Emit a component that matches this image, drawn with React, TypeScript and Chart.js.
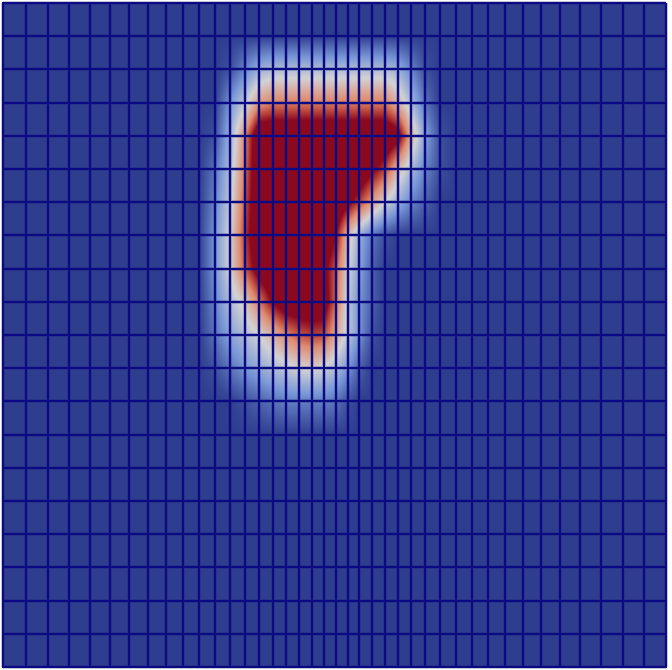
import React, { useEffect, useRef } from "react";
import { Chart, registerables } from "chart.js";

Chart.register(...registerables);

// Mesh node coordinates (graded in x, uniform in y); y increases upward
const meshX = [
  0, 0.0347, 0.0679, 0.0995, 0.1312, 0.1614, 0.19, 0.2187, 0.2459, 0.2715,
  0.2956, 0.3198, 0.3424, 0.365, 0.3861, 0.4072, 0.4268, 0.4465, 0.4661, 0.4842,
  0.5023, 0.5204, 0.537, 0.5566, 0.5762, 0.5958, 0.6154, 0.6365, 0.6591, 0.6833,
  0.7074, 0.7315, 0.7572, 0.7843, 0.8115, 0.8401, 0.8703, 0.902, 0.9351, 0.9668, 1,
];
const meshY = [
  0, 0.05, 0.1, 0.15, 0.2, 0.25, 0.3, 0.35, 0.4, 0.45, 0.5,
  0.55, 0.6, 0.65, 0.7, 0.75, 0.8, 0.85, 0.9, 0.95, 1,
];

// Nodal field values, given on the patch of nodes where it is non-zero
const patchX = [
  0.2956, 0.3198, 0.3424, 0.365, 0.3861, 0.4072, 0.4268, 0.4465, 0.4661, 0.4842,
  0.5023, 0.5204, 0.537, 0.5566, 0.5762, 0.5958, 0.6154, 0.6365, 0.6591, 0.6833, 0.7074,
];
const patchY = [0.9, 0.85, 0.8, 0.75, 0.7, 0.65, 0.6, 0.55, 0.5, 0.45, 0.4];
const fieldValues = [
  [0, 0, 0.05, 0.2, 0.35, 0.4, 0.4, 0.4, 0.4, 0.4, 0.4, 0.4, 0.4, 0.4, 0.4, 0.35, 0.2, 0.05, 0, 0, 0],
  [0, 0, 0.25, 0.45, 0.7, 0.78, 0.78, 0.78, 0.78, 0.78, 0.78, 0.78, 0.78, 0.78, 0.78, 0.62, 0.4, 0.15, 0, 0, 0],
  [0, 0.05, 0.35, 0.75, 1.2, 1.2, 1.2, 1.2, 1.2, 1.2, 1.2, 1.2, 1.2, 1.2, 1.2, 1.1, 0.65, 0.3, 0.05, 0, 0],
  [0, 0.15, 0.4, 0.8, 1.2, 1.2, 1.2, 1.2, 1.2, 1.2, 1.2, 1.2, 1.2, 1.05, 0.9, 0.6, 0.4, 0.2, 0.05, 0, 0],
  [0, 0.2, 0.45, 0.85, 1.2, 1.2, 1.2, 1.2, 1.2, 1.2, 1.2, 1.05, 0.9, 0.7, 0.5, 0.35, 0.2, 0.1, 0, 0, 0],
  [0, 0.25, 0.5, 0.9, 1.2, 1.2, 1.2, 1.2, 1.2, 1.2, 1.0, 0.6, 0.35, 0.15, 0.05, 0, 0, 0, 0, 0, 0],
  [0, 0.25, 0.5, 0.85, 1.1, 1.2, 1.2, 1.2, 1.2, 1.05, 0.85, 0.5, 0.3, 0.1, 0, 0, 0, 0, 0, 0, 0],
  [0, 0.2, 0.4, 0.55, 0.78, 1.02, 1.15, 1.15, 1.15, 1.12, 0.8, 0.45, 0.25, 0.1, 0, 0, 0, 0, 0, 0, 0],
  [0, 0.15, 0.3, 0.4, 0.5, 0.62, 0.75, 0.85, 0.9, 0.88, 0.65, 0.45, 0.25, 0.05, 0, 0, 0, 0, 0, 0, 0],
  [0, 0.05, 0.15, 0.25, 0.32, 0.4, 0.45, 0.5, 0.52, 0.48, 0.4, 0.25, 0.1, 0, 0, 0, 0, 0, 0, 0, 0],
  [0, 0, 0, 0.05, 0.1, 0.15, 0.18, 0.18, 0.18, 0.18, 0.15, 0.05, 0, 0, 0, 0, 0, 0, 0, 0, 0],
];

// Colour map stops (value, r, g, b)
const colorStops: number[][] = [
  [0, 47, 61, 143],
  [0.25, 120, 150, 214],
  [0.5, 210, 210, 212],
  [0.75, 222, 140, 112],
  [0.875, 190, 75, 62],
  [1, 140, 8, 30],
];

const EDGE = "rgb(10,10,132)";

function mapColor(v: number): [number, number, number] {
  const t = Math.max(0, Math.min(1, v));
  for (let k = 1; k < colorStops.length; k++) {
    const a = colorStops[k - 1];
    const b = colorStops[k];
    if (t <= b[0]) {
      const f = (t - a[0]) / (b[0] - a[0]);
      return [a[1] + (b[1] - a[1]) * f, a[2] + (b[2] - a[2]) * f, a[3] + (b[3] - a[3]) * f];
    }
  }
  const l = colorStops[colorStops.length - 1];
  return [l[1], l[2], l[3]];
}

function findCell(arr: number[], v: number): [number, number] {
  if (v <= arr[0]) return [0, 0];
  for (let i = 0; i < arr.length - 1; i++) {
    if (v <= arr[i + 1]) return [i, (v - arr[i]) / (arr[i + 1] - arr[i])];
  }
  return [arr.length - 2, 1];
}

function nodalField(): Float32Array {
  const nx = meshX.length;
  const ny = meshY.length;
  const g = new Float32Array(nx * ny);
  patchY.forEach((yv, r) => {
    const j = meshY.findIndex((m) => Math.abs(m - yv) < 1e-6);
    patchX.forEach((xv, c) => {
      const i = meshX.findIndex((m) => Math.abs(m - xv) < 1e-6);
      if (i >= 0 && j >= 0) g[j * nx + i] = fieldValues[r][c];
    });
  });
  return g;
}

const fieldPlugin = {
  id: "fieldPlugin",
  beforeDatasetsDraw(chart: any) {
    const { ctx, chartArea: a, scales } = chart;
    const xs = scales.x;
    const ys = scales.y;
    const left = Math.round(a.left);
    const top = Math.round(a.top);
    const w = Math.round(a.right) - left;
    const h = Math.round(a.bottom) - top;
    const nx = meshX.length;
    const g = nodalField();
    const ci = new Int32Array(w);
    const cf = new Float32Array(w);
    for (let p = 0; p < w; p++) {
      const [i, f] = findCell(meshX, xs.getValueForPixel(left + p + 0.5));
      ci[p] = i;
      cf[p] = f;
    }
    const ri = new Int32Array(h);
    const rf = new Float32Array(h);
    for (let q = 0; q < h; q++) {
      const [j, f] = findCell(meshY, ys.getValueForPixel(top + q + 0.5));
      ri[q] = j;
      rf[q] = f;
    }
    const off = document.createElement("canvas");
    off.width = w;
    off.height = h;
    const octx = off.getContext("2d")!;
    const img = octx.createImageData(w, h);
    const d = img.data;
    for (let q = 0; q < h; q++) {
      const j = ri[q];
      const fy = rf[q];
      for (let p = 0; p < w; p++) {
        const i = ci[p];
        const fx = cf[p];
        const v00 = g[j * nx + i];
        const v10 = g[j * nx + i + 1];
        const v01 = g[(j + 1) * nx + i];
        const v11 = g[(j + 1) * nx + i + 1];
        const v =
          v00 * (1 - fx) * (1 - fy) + v10 * fx * (1 - fy) + v01 * (1 - fx) * fy + v11 * fx * fy;
        const [r, gg, b] = mapColor(v);
        const k = (q * w + p) * 4;
        d[k] = r;
        d[k + 1] = gg;
        d[k + 2] = b;
        d[k + 3] = 255;
      }
    }
    octx.putImageData(img, 0, 0);
    ctx.save();
    ctx.drawImage(off, left, top);
    // soft halo around mesh edges
    ctx.strokeStyle = "rgba(20,20,120,0.25)";
    ctx.lineWidth = 4;
    ctx.beginPath();
    meshX.forEach((v) => {
      const px = Math.round(xs.getPixelForValue(v));
      ctx.moveTo(px, a.top);
      ctx.lineTo(px, a.bottom);
    });
    meshY.forEach((v) => {
      const py = Math.round(ys.getPixelForValue(v));
      ctx.moveTo(a.left, py);
      ctx.lineTo(a.right, py);
    });
    ctx.stroke();
    ctx.restore();
  },
};

export default function App() {
  const ref = useRef<HTMLCanvasElement | null>(null);
  useEffect(() => {
    if (!ref.current) return;
    const axisCommon = {
      type: "linear" as const,
      min: 0,
      max: 1,
      display: true,
      ticks: { display: false },
      grid: { color: EDGE, lineWidth: 2, drawTicks: false, z: 1 },
      border: { display: true, color: EDGE, width: 2, z: 1 },
    };
    const chart = new Chart(ref.current, {
      type: "scatter",
      data: { datasets: [{ label: "field", data: [], pointRadius: 0 }] },
      options: {
        animation: false,
        responsive: false,
        maintainAspectRatio: false,
        layout: { padding: { left: 3, top: 3, right: 6, bottom: 3 } },
        plugins: { legend: { display: false }, tooltip: { enabled: false } },
        scales: {
          x: {
            ...axisCommon,
            position: "bottom",
            afterBuildTicks: (axis: any) => {
              axis.ticks = meshX.map((v) => ({ value: v }));
            },
          },
          y: {
            ...axisCommon,
            position: "left",
            afterBuildTicks: (axis: any) => {
              axis.ticks = meshY.map((v) => ({ value: v }));
            },
          },
        },
      } as any,
      plugins: [fieldPlugin],
    });
    return () => chart.destroy();
  }, []);
  return (
    <div style={{ position: "fixed", left: 0, top: 0, width: 672, height: 670, background: "#fff" }}>
      <canvas ref={ref} width={672} height={670} style={{ display: "block" }} />
    </div>
  );
}
